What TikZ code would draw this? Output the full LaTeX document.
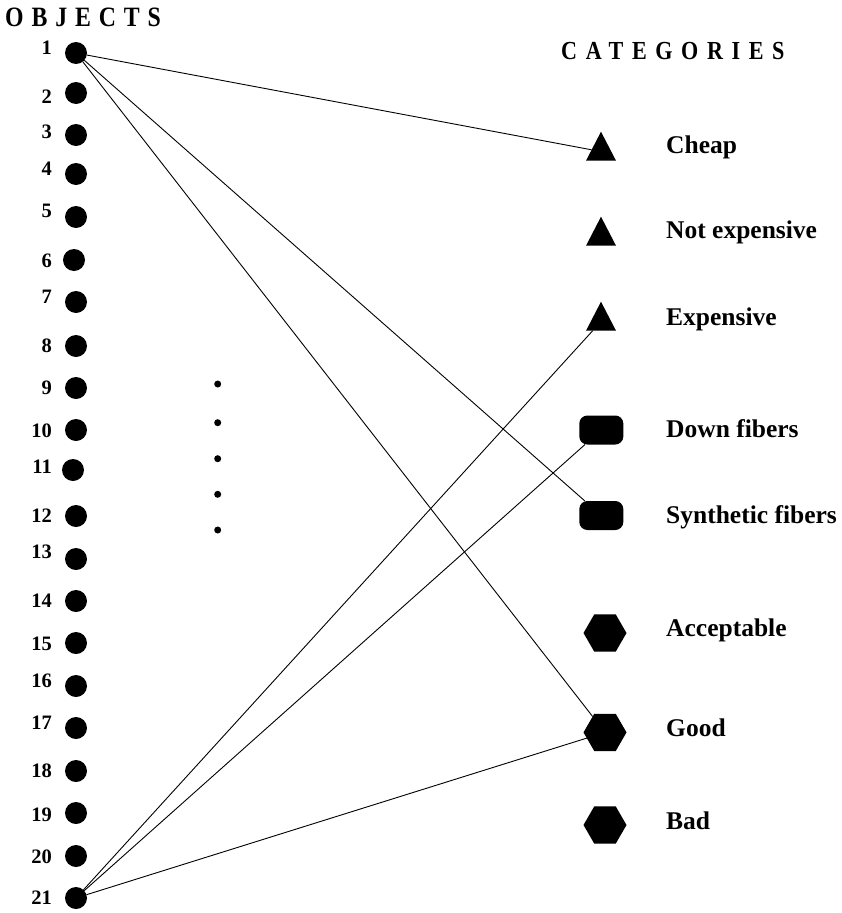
\documentclass[tikz,border=0pt]{standalone}
\usepackage{graphicx}
\usepackage{fontspec}
\setmainfont{Liberation Serif}
\newfontfamily\objfont[LetterSpace=33]{Liberation Serif}
\newfontfamily\catfont[LetterSpace=39]{Liberation Serif}
\usetikzlibrary{shapes.geometric}

\begin{document}
\begin{tikzpicture}[
  x=1pt, y=-1pt,
  obj/.style={circle, fill, minimum size=22pt, inner sep=0pt, outer sep=0pt},
  num/.style={anchor=base east, inner sep=0pt, font=\fontsize{20.5}{24}\selectfont\bfseries},
  edot/.style={circle, fill, minimum size=7pt, inner sep=0pt},
  tri/.style={isosceles triangle, isosceles triangle stretches, shape border rotate=90,
              minimum width=30pt, minimum height=29pt, inner sep=0pt, outer sep=0pt, fill},
  rbox/.style={rectangle, rounded corners=8pt, minimum width=44pt, minimum height=29pt,
               inner sep=0pt, outer sep=0pt, fill},
  hexa/.style={regular polygon, regular polygon sides=6, minimum size=43pt,
               inner sep=0pt, outer sep=0pt, fill},
  cat/.style={anchor=base west, inner sep=0pt, font=\fontsize{25.5}{30}\selectfont\bfseries},
  head/.style={anchor=base west, inner sep=0pt},
  link/.style={line width=0.9pt},
  ]
\useasboundingbox (0,0) rectangle (842,913);

% headers
\node[head] (objhead) at (5,26)
  {\scalebox{0.85}[1]{\objfont\fontsize{28}{32}\selectfont\bfseries OBJECTS}};
\node[head] (cathead) at (561,59.3)
  {\scalebox{0.85}[1]{\catfont\fontsize{26}{30}\selectfont\bfseries CATEGORIES}};

% objects
\foreach \i/\x/\y/\b in {1/76/53/54.5, 2/76/93/103.5, 3/76/135/138.5, 4/76/174/175,
    5/76/217/217, 6/74/260/267, 7/76/302/303, 8/76/346/352, 9/76/388/394,
    10/76/430/437, 11/73/470/473, 12/76/516/522, 13/76/559/558, 14/76/601/607,
    15/76/643/650, 16/76/686/687, 17/76/728/729, 18/76/771/777, 19/76/813/821,
    20/76/856/863, 21/76/898/904} {
  \node[obj] (o\i) at (\x,\y) {};
  \node[num] (n\i) at (52,\b) {\i};
}

% ellipsis
\foreach \k/\y in {1/384, 2/422.7, 3/458.7, 4/494.3, 5/530}
  \node[edot] (e\k) at (217.7,\y) {};

% categories
\node[tri, anchor=apex] (cheap) at (601,131.7) {};
\node[tri, anchor=apex] (notexp) at (601,216.7) {};
\node[tri, anchor=apex] (exp) at (601,301.7) {};
\node[rbox] (down) at (601.3,430) {};
\node[rbox] (synth) at (601.3,515.5) {};
\node[hexa] (accept) at (605,633) {};
\node[hexa] (good) at (605,732.4) {};
\node[hexa] (bad) at (605,825) {};

\node[cat] (lcheap) at (666,153) {Cheap};
\node[cat] (lnotexp) at (666,238) {Not expensive};
\node[cat] (lexp) at (666,325) {Expensive};
\node[cat] (ldown) at (666,437) {Down fibers};
\node[cat] (lsynth) at (666,523) {Synthetic fibers};
\node[cat] (laccept) at (666,636) {Acceptable};
\node[cat] (lgood) at (666,736) {Good};
\node[cat] (lbad) at (666,829) {Bad};

% links
\draw[link] (o1) -- (cheap);
\draw[link] (o1) -- (synth);
\draw[link] (o1) -- (good);
\draw[link] (o21) -- (exp);
\draw[link] (o21) -- (down);
\draw[link] (o21) -- (good);
\end{tikzpicture}
\end{document}
